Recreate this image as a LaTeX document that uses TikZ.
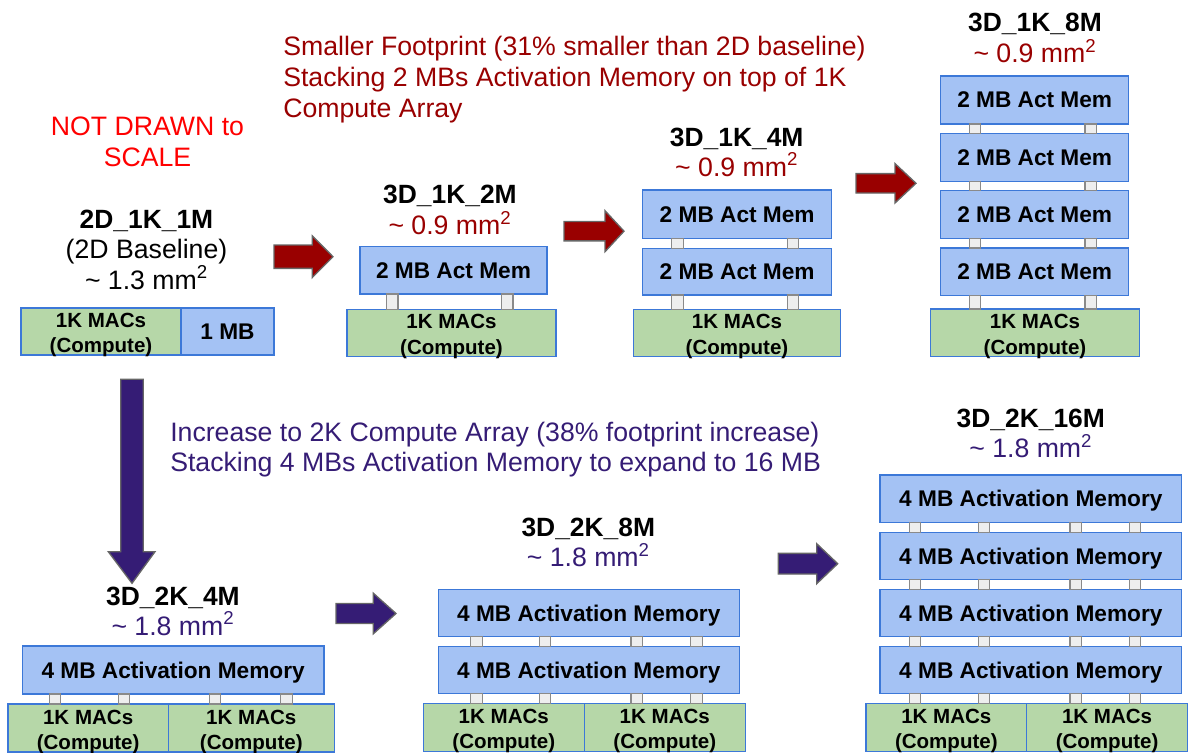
\documentclass[tikz,border=0pt]{standalone}
\usepackage{fontspec}
\setmainfont{Liberation Sans}
\definecolor{memfill}{HTML}{A4C2F4}
\definecolor{compfill}{HTML}{B6D7A8}
\definecolor{edgeblue}{HTML}{3C78D8}
\definecolor{tsvfill}{HTML}{EEEEEE}
\definecolor{tsvedge}{HTML}{8A8A8A}
\definecolor{darkred}{HTML}{990000}
\definecolor{brightred}{HTML}{FF0000}
\definecolor{indigo}{HTML}{351C75}
\definecolor{arrowedge}{HTML}{666666}

\tikzset{
  mem/.style={draw=edgeblue, fill=memfill, line width=0.9pt, inner sep=0pt, outer sep=0pt,
    font=\fontsize{17}{20}\selectfont\bfseries, text depth=0pt},
  comp/.style={draw=edgeblue, fill=compfill, line width=0.9pt, inner sep=0pt, outer sep=0pt,
    font=\fontsize{15.4}{19}\selectfont\bfseries, align=center, text height=32pt, text depth=0pt},
  tsv/.style={draw=tsvedge, fill=tsvfill, line width=0.8pt},
  title/.style={anchor=base, inner sep=0pt, font=\fontsize{19.8}{23}\selectfont\bfseries},
  area/.style={anchor=base, inner sep=0pt, font=\fontsize{20}{23}\selectfont},
  note/.style={inner sep=0pt, font=\fontsize{20}{23.4}\selectfont},
  blockarrow/.style={draw=arrowedge, line width=1pt, line join=miter},
}
% a box given by its corners (in px), with a name, a style and a text
\newcommand\chip[7]{\node[#6, minimum width={(#4-#2)*0.75}, minimum height={(#5-#3)*0.75}] (#1) at ({(#2+#4)/2},{(#3+#5)/2}) {#7};}
% through-silicon pillars between an upper and a lower die
\newcommand\tsvs[3]{\foreach \px in {#3} {\draw[tsv] (\px,0 |- #1.south) rectangle (\px+11.5,0 |- #2.north);}}
\newcommand\macs{1K MACs\\(Compute)}
\newcommand\mmsq[1]{\textasciitilde{} #1 mm\textsuperscript{2}}
% block arrow pointing right: tail x, head start x, tip x, centre y, half shaft, half head, colour
\newcommand\rarrow[7]{%
  \draw[blockarrow, fill=#7] (#1,#4-#5) -- (#2,#4-#5) -- (#2,#4-#6) -- (#3,#4)
    -- (#2,#4+#6) -- (#2,#4+#5) -- (#1,#4+#5) -- cycle;}

\begin{document}
\begin{tikzpicture}[x=0.75pt, y=-0.75pt]
\useasboundingbox (0,0) rectangle (1190,753);

% ---- notes (anchored on the baseline of their last line) ----
\node[note, anchor=base, align=center, text=brightred] (scale) at (147.5,166.5) {NOT DRAWN to\\SCALE};
\node[note, anchor=base west, align=left, text=darkred] (shrink) at (283,117.4)
  {Smaller Footprint (31\% smaller than 2D baseline)\\Stacking 2 MBs Activation Memory on top of 1K\\Compute Array};
\node[note, anchor=base west, align=left, text=indigo, font=\fontsize{20}{22.5}\selectfont] (grow) at (170,471.7)
  {Increase to 2K Compute Array (38\% footprint increase)\\Stacking 4 MBs Activation Memory to expand to 16 MB};

% ---- 2D baseline ----
\node[title] (t1) at (146.5,228.3) {2D\_1K\_1M};
\node[area] (s1) at (146.5,258.5) {(2D Baseline)};
\node[area] (a1) at (146.5,289) {\mmsq{1.3}};
\chip{c1}{21}{308}{181}{355}{comp}{\macs}
\chip{m1}{181}{308}{274}{355}{mem}{1 MB}

% ---- 3D, 1K compute ----
\node[title] (t2) at (450,203.3) {3D\_1K\_2M};
\node[area, text=darkred] (a2) at (450,234.3) {\mmsq{0.9}};
\chip{m2}{360}{246.7}{547}{294}{mem}{2 MB Act Mem}
\chip{c2}{347}{309.3}{556}{356.5}{comp}{\macs}
\tsvs{m2}{c2}{386.5,501.5}

\node[title] (t3) at (736.7,146) {3D\_1K\_4M};
\node[area, text=darkred] (a3) at (736.7,176) {\mmsq{0.9}};
\chip{m3a}{642.7}{190}{831.7}{238.3}{mem}{2 MB Act Mem}
\chip{m3b}{642.7}{248.3}{831.7}{295}{mem}{2 MB Act Mem}
\chip{c3}{633.3}{309.3}{840.7}{356.5}{comp}{\macs}
\tsvs{m3a}{m3b}{671.7,787.3}
\tsvs{m3b}{c3}{671.7,787.3}

\node[title] (t4) at (1035,31.7) {3D\_1K\_8M};
\node[area, text=darkred] (a4) at (1035,62.7) {\mmsq{0.9}};
\chip{m4a}{940.7}{76}{1128.7}{124}{mem}{2 MB Act Mem}
\chip{m4b}{940.7}{133.3}{1128.7}{181.7}{mem}{2 MB Act Mem}
\chip{m4c}{940.7}{190.7}{1128.7}{238.7}{mem}{2 MB Act Mem}
\chip{m4d}{940.7}{248}{1128.7}{295.7}{mem}{2 MB Act Mem}
\chip{c4}{930.7}{309}{1139.3}{356.5}{comp}{\macs}
\tsvs{m4a}{m4b}{969.3,1085}
\tsvs{m4b}{m4c}{969.3,1085}
\tsvs{m4c}{m4d}{969.3,1085}
\tsvs{m4d}{c4}{969.3,1085}

% ---- 3D, 2K compute ----
\node[title] (t5) at (173,605) {3D\_2K\_4M};
\node[area, text=indigo] (a5) at (173,635) {\mmsq{1.8}};
\chip{m5}{22.3}{646}{324}{694}{mem}{4 MB Activation Memory}
\chip{c5a}{8}{704}{168.3}{752}{comp}{\macs}
\chip{c5b}{168.3}{704}{334.3}{752}{comp}{\macs}
\tsvs{m5}{c5a}{49.3,118.3}
\tsvs{m5}{c5b}{209.3,280.7}

\node[title] (t6) at (588.3,536) {3D\_2K\_8M};
\node[area, text=indigo] (a6) at (588.3,566.7) {\mmsq{1.8}};
\chip{m6a}{438.3}{589.3}{739.3}{636.7}{mem}{4 MB Activation Memory}
\chip{m6b}{438.3}{646.7}{739.3}{693.3}{mem}{4 MB Activation Memory}
\chip{c6a}{423.3}{703.3}{584.3}{751.5}{comp}{\macs}
\chip{c6b}{584.3}{703.3}{745.3}{751.5}{comp}{\macs}
\tsvs{m6a}{m6b}{470.7,539.3,631,690.7}
\tsvs{m6b}{c6a}{470.7,539.3}
\tsvs{m6b}{c6b}{631,690.7}

\node[title] (t7) at (1030.8,427.3) {3D\_2K\_16M};
\node[area, text=indigo] (a7) at (1030.8,457.3) {\mmsq{1.8}};
\chip{m7a}{880}{475}{1181.7}{522.3}{mem}{4 MB Activation Memory}
\chip{m7b}{880}{532.3}{1181.7}{579.3}{mem}{4 MB Activation Memory}
\chip{m7c}{880}{589.3}{1181.7}{636.7}{mem}{4 MB Activation Memory}
\chip{m7d}{880}{646.7}{1181.7}{693.3}{mem}{4 MB Activation Memory}
\chip{c7a}{866}{703.3}{1026.7}{751.5}{comp}{\macs}
\chip{c7b}{1026.7}{703.3}{1187.5}{751.5}{comp}{\macs}
\tsvs{m7a}{m7b}{909.3,978.3,1070,1129.3}
\tsvs{m7b}{m7c}{909.3,978.3,1070,1129.3}
\tsvs{m7c}{m7d}{909.3,978.3,1070,1129.3}
\tsvs{m7d}{c7a}{909.3,978.3}
\tsvs{m7d}{c7b}{1070,1129.3}

% ---- progression arrows ----
\rarrow{274}{312.3}{333}{256.7}{11.7}{20.8}{darkred}
\rarrow{564}{605}{624}{231.2}{9.7}{20.5}{darkred}
\rarrow{856}{895}{916}{183.3}{9.7}{19.7}{darkred}
\rarrow{336}{373.3}{396}{613.5}{10}{20.3}{indigo}
\rarrow{778.3}{816.7}{837.7}{563.7}{10.3}{20}{indigo}
\draw[blockarrow, fill=indigo] (120.7,379.3) -- (143.3,379.3) -- (143.3,551.7) -- (155,551.7)
  -- (132,583.3) -- (108.3,551.7) -- (120.7,551.7) -- cycle;
\end{tikzpicture}
\end{document}
